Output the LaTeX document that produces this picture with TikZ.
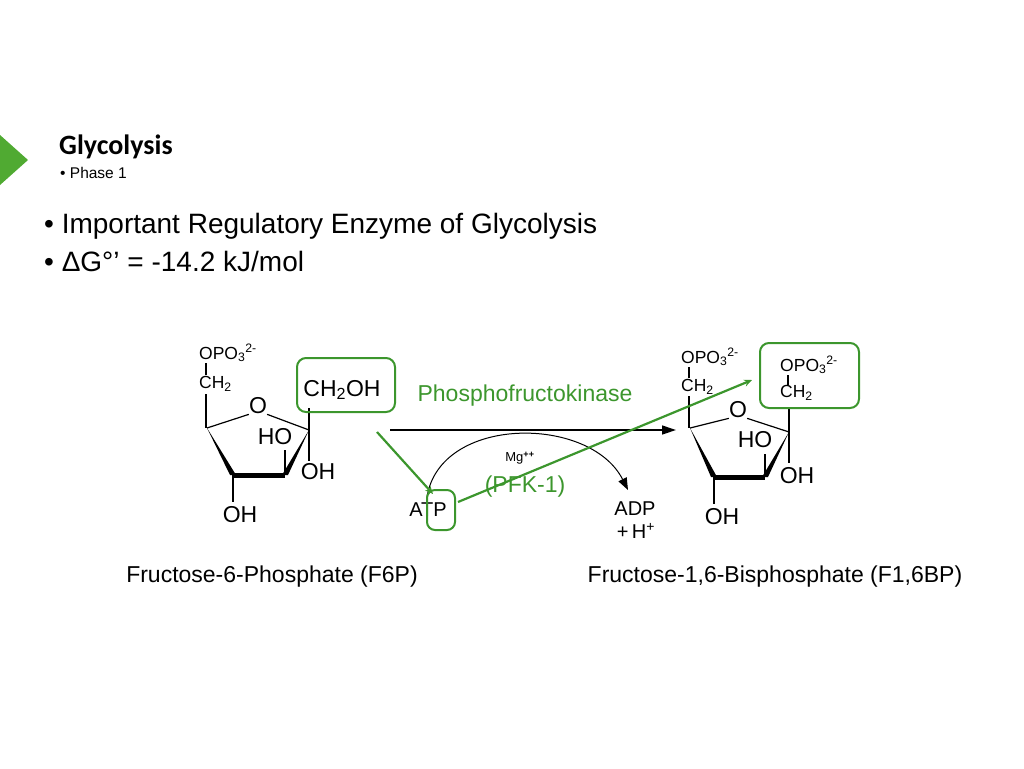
\documentclass[tikz,border=0pt]{standalone}
\usepackage{fontspec}
\setmainfont{Liberation Sans}
\newfontfamily\calib{Carlito}
\usetikzlibrary{arrows.meta,calc}
\definecolor{grn}{RGB}{60,150,45}
\definecolor{tri}{RGB}{80,170,50}
\begin{document}
\begin{tikzpicture}[x=1pt,y=-1pt,
  bond/.style={line width=1.2pt},
  mol/.style={font=\fontsize{23}{23}\selectfont,inner sep=0pt},
  smol/.style={font=\fontsize{17.5}{17.5}\selectfont,inner sep=0pt},
  gbox/.style={draw=grn,line width=2pt,rounded corners=9pt},
  garrow/.style={draw=grn,line width=2.2pt,-{Stealth[length=8pt,width=7pt]}},
  lbl/.style={font=\fontsize{23}{23}\selectfont,inner sep=0pt},
  slbl/.style={font=\fontsize{20}{20}\selectfont,inner sep=0pt}]
\useasboundingbox (0,0) rectangle (1024,768);
\fill[tri] (0,135) -- (28,160) -- (0,185) -- cycle;
\node[anchor=west,inner sep=0pt,font=\calib\bfseries\fontsize{28}{28}\selectfont] (title) at (59,147) {Glycolysis};
\node[anchor=west,inner sep=0pt,font=\fontsize{15.5}{15.5}\selectfont] (phase) at (60,173) {• Phase 1};
\node[anchor=west,inner sep=0pt,font=\fontsize{28}{28}\selectfont] (b1) at (44,226) {• Important Regulatory Enzyme of Glycolysis};
\node[anchor=west,inner sep=0pt,font=\fontsize{28}{28}\selectfont] (b2) at (44,261) {• ΔG°’ = -14.2 kJ/mol};
% left molecule
\node[smol,anchor=west] (opo) at (199,353) {OPO\textsubscript{3}\textsuperscript{2-}};
\node[smol,anchor=west] (ch) at (199,384) {CH\textsubscript{2}};
\draw[bond] (206,363) -- (206,375);
\draw[bond] (206,394) -- (206,428);
\coordinate (c5) at (207,428); \coordinate (c2) at (309,430);
\coordinate (c3) at (285,475); \coordinate (c4) at (233,475);
\node[mol] (o) at (258,406) {O};
\draw[bond] (c5) -- (o.south west);
\draw[bond] (o.south east) -- (c2);
\fill (c5) -- ($(c4)+(-3,0)$) -- ($(c4)+(3,0)$) -- cycle;
\draw[line width=5pt] (c4) -- (c3);
\fill (c2) -- ($(c3)+(-3,0)$) -- ($(c3)+(3,0)$) -- cycle;
\node[mol] (ho) at (275,437) {HO};
\draw[bond] (c3) -- (285,450);
\draw[bond] (309,408) -- (309,461);
\node[mol] (oh1) at (318,472) {OH};
\draw[bond] (c4) -- (233,502);
\node[mol] (oh2) at (240,515) {OH};
\node[mol] (ch2oh) at (342,390) {CH\textsubscript{2}OH};
\draw[gbox] (297,358) rectangle (395,412);
% right molecule
\begin{scope}[shift={(482,2)}]
\node[smol,anchor=west] (ropo) at (199,355) {OPO\textsubscript{3}\textsuperscript{2-}};
\node[smol,anchor=west] (rch) at (199,385) {CH\textsubscript{2}};
\draw[bond] (207,365) -- (207,376);
\draw[bond] (207,394) -- (207,426);
\coordinate (rc5) at (208,426); \coordinate (rc2) at (307,430);
\coordinate (rc3) at (283,475); \coordinate (rc4) at (232,475);
\node[mol] (ro) at (256,408) {O};
\draw[bond] (rc5) -- (ro.south west);
\draw[bond] (ro.south east) -- (rc2);
\fill (rc5) -- ($(rc4)+(-3,0)$) -- ($(rc4)+(3,0)$) -- cycle;
\draw[line width=5pt] (rc4) -- (rc3);
\fill (rc2) -- ($(rc3)+(-3,0)$) -- ($(rc3)+(3,0)$) -- cycle;
\node[mol] (rho) at (273,438) {HO};
\draw[bond] (rc3) -- (283,452);
\draw[bond] (307,406) -- (307,461);
\node[mol] (roh1) at (315,474) {OH};
\draw[bond] (rc4) -- (232,502);
\node[mol] (roh2) at (240,515) {OH};
\node[smol,anchor=west] (popo) at (298,363) {OPO\textsubscript{3}\textsuperscript{2-}};
\node[smol,anchor=west] (pch) at (298,391) {CH\textsubscript{2}};
\draw[bond] (306,373) -- (306,383);
\end{scope}
\draw[gbox] (760,343) rectangle (859,408);
% reaction
\node[lbl,text=grn] (pfk) at (525,396) {Phosphofructokinase};
\coordinate (rs) at (390,430); \coordinate (re) at (676,430);
\draw[line width=1.3pt,-{Triangle[length=14pt,width=9pt]}] (rs) -- (re);
\node[slbl] (atp) at (428,510) {ATP};
\node[slbl] (adp) at (635,509) {ADP};
\node[slbl] (hp) at (636,531) {+\,H\textsuperscript{+}};
\node[inner sep=0pt,font=\fontsize{13}{13}\selectfont] (mg) at (520,458) {Mg\textsuperscript{\textbf{++}}};
\draw[line width=1pt,-{Triangle[length=12pt,width=9pt]}] (427,497) .. controls (440,415) and (590,415) .. (628,490);
\node[lbl,text=grn] (pfk1) at (525,487) {(PFK-1)};
\draw[gbox,rounded corners=8pt] (427,490) rectangle (455,530);
\coordinate (g1s) at (377,432); \coordinate (g1e) at (433,494);
\draw[garrow] (g1s) -- (g1e);
\coordinate (g2s) at (458,502); \coordinate (g2e) at (752,380);
\draw[garrow] (g2s) -- (g2e);
\node[lbl] (f6p) at (272,577) {Fructose-6-Phosphate (F6P)};
\node[lbl] (f16) at (775,577) {Fructose-1,6-Bisphosphate (F1,6BP)};
\end{tikzpicture}
\end{document}
